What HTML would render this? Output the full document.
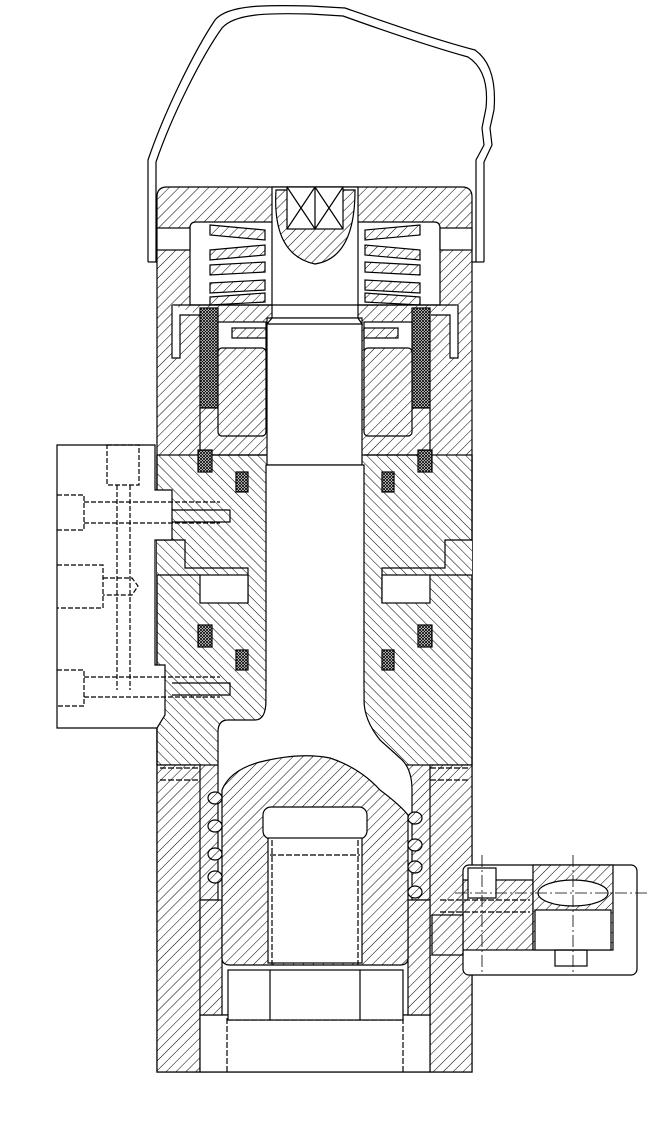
<!DOCTYPE html>
<html><head><meta charset="utf-8"><style>html,body{margin:0;padding:0;background:#fff}svg{display:block}</style></head>
<body>
<svg width="650" height="1135" viewBox="0 0 650 1135" xmlns="http://www.w3.org/2000/svg" fill="none" stroke="#000" stroke-width="1.2">
<defs>
<pattern id="h" width="7" height="7" patternUnits="userSpaceOnUse" patternTransform="rotate(45)"><rect width="7" height="7" fill="#fff" stroke="none"/><line x1="0" y1="0" x2="0" y2="7" stroke="#000" stroke-width="1"/></pattern>
<pattern id="g" width="7" height="7" patternUnits="userSpaceOnUse" patternTransform="rotate(-45)"><rect width="7" height="7" fill="#fff" stroke="none"/><line x1="0" y1="0" x2="0" y2="7" stroke="#000" stroke-width="1"/></pattern>
<pattern id="x" width="3" height="3" patternUnits="userSpaceOnUse"><rect width="3" height="3" fill="#fff" stroke="none"/><path d="M0,0L3,3M3,0L0,3" stroke="#000" stroke-width="0.8"/></pattern>
</defs>
<!-- handle -->
<path d="M148,262 L148,160 C165,110 195,50 215,20 C228,4 270,5 310,6 L345,8 C385,22 430,38 475,50 C492,62 496,85 494,110 L490,128 L492,145 L484,162 L484,262" />
<path d="M156,262 L156,162 C172,115 202,56 222,28 C235,13 270,13 310,14 L343,16 C382,30 425,45 468,57 C485,68 488,88 486,108 L482,128 L484,145 L476,160 L476,262" />
<line x1="148" y1="262" x2="157" y2="262"/><line x1="472" y1="262" x2="484" y2="262"/>
<!-- main body -->
<path d="M157,197 Q157,187 167,187 L462,187 Q472,187 472,197 L472,1072 L157,1072 Z" fill="url(#h)"/>
<rect x="157" y="455" width="315" height="310" fill="url(#g)"/>
<line x1="157" y1="455" x2="157" y2="765"/><line x1="472" y1="455" x2="472" y2="765"/>
<!-- top cavity -->
<path d="M190,228 Q190,222 196,222 L434,222 Q440,222 440,228 L440,305 L190,305 Z" fill="#fff"/>
<rect x="157" y="228" width="33" height="22" fill="#fff"/>
<rect x="440" y="228" width="32" height="22" fill="#fff"/>
<!-- disc springs -->
<g fill="url(#h)">
<path d="M210,225 L265,230 L265,240 L210,235Z"/><path d="M210,250 L265,245 L265,255 L210,260Z"/>
<path d="M210,265 L265,262 L265,272 L210,275Z"/><path d="M210,283 L265,280 L265,290 L210,293Z"/>
<path d="M210,297 L265,293 L265,302 L210,305Z"/>
<path d="M420,225 L365,230 L365,240 L420,235Z"/><path d="M420,250 L365,245 L365,255 L420,260Z"/>
<path d="M420,265 L365,262 L365,272 L420,275Z"/><path d="M420,283 L365,280 L365,290 L420,293Z"/>
<path d="M420,297 L365,293 L365,302 L420,305Z"/>
</g>
<!-- upper rod -->
<rect x="272" y="187" width="86" height="131" fill="#fff"/>
<path d="M276,190 Q272,255 315,264 Q355,258 355,190 Z" fill="url(#h)"/>
<rect x="287" y="187" width="56" height="42" fill="#fff"/>
<path d="M287,187 L315,229 M315,187 L287,229 M315,187 L343,229 M343,187 L315,229 M315,187 L315,229"/>
<rect x="267" y="318" width="95" height="147" fill="#fff"/>
<path d="M272,318 L267,324 L362,324 L358,318"/>
<line x1="172" y1="305" x2="458" y2="305"/>
<!-- side channels top -->
<path d="M172,305 L172,358 L180,358 L180,315 L200,315" fill="#fff"/>
<path d="M458,305 L458,358 L450,358 L450,315 L431,315" fill="#fff"/>
<!-- seal rings -->
<rect x="200" y="308" width="18" height="100" fill="url(#x)"/>
<rect x="412" y="308" width="18" height="100" fill="url(#x)"/>
<!-- nuts -->
<rect x="218" y="322" width="48" height="28" fill="#fff"/>
<rect x="364" y="322" width="48" height="28" fill="#fff"/>
<rect x="218" y="348" width="48" height="88" rx="4" fill="url(#h)"/>
<rect x="364" y="348" width="48" height="88" rx="4" fill="url(#h)"/>
<rect x="232" y="328" width="34" height="10" fill="url(#h)"/>
<rect x="364" y="328" width="34" height="10" fill="url(#h)"/>
<!-- lower rod -->
<rect x="266" y="465" width="98" height="255" fill="#fff"/>
<path d="M200,408 L200,455 L266,455" />
<path d="M430,408 L430,455 L364,455"/>
<rect x="198" y="450" width="14" height="22" fill="url(#x)"/>
<rect x="418" y="450" width="14" height="22" fill="url(#x)"/>
<rect x="236" y="472" width="12" height="20" fill="url(#x)"/>
<rect x="382" y="472" width="12" height="20" fill="url(#x)"/>
<!-- middle step -->
<path d="M157,540 L185,540 L185,568 L248,568 L248,602 L210,602 L200,575 L157,575" fill="url(#g)"/>
<path d="M472,540 L445,540 L445,568 L382,568 L382,602 L420,602 L430,575 L472,575" fill="url(#g)"/>
<rect x="200" y="575" width="48" height="28" fill="#fff"/><rect x="382" y="575" width="48" height="28" fill="#fff"/>
<rect x="198" y="625" width="14" height="22" fill="url(#x)"/><rect x="418" y="625" width="14" height="22" fill="url(#x)"/>
<rect x="236" y="650" width="12" height="20" fill="url(#x)"/><rect x="382" y="650" width="12" height="20" fill="url(#x)"/>
<!-- bottom cavity -->
<path d="M228,720 L255,720 Q266,720 266,700 L266,690 L364,690 L364,700 Q364,720 380,740 L400,758 Q412,768 412,790 L412,900 L437,900 L437,1015 L193,1015 L193,900 L218,900 L218,732 Q218,720 228,720Z" fill="#fff"/>
<rect x="266.6" y="686" width="96.8" height="40" fill="#fff" stroke="none"/>
<rect x="157" y="765" width="43" height="307" fill="url(#h)"/>
<rect x="430" y="765" width="42" height="307" fill="url(#h)"/>
<rect x="200" y="1015" width="230" height="57" fill="#fff"/>
<path d="M227,1018 L227,1072 M403,1018 L403,1072 M227,1020 L403,1020" stroke-dasharray="6,2"/>
<rect x="228" y="970" width="175" height="50" fill="#fff"/>
<line x1="270" y1="970" x2="270" y2="1020"/><line x1="360" y1="970" x2="360" y2="1020"/>
<rect x="200" y="900" width="22" height="115" fill="url(#h)"/>
<rect x="408" y="900" width="22" height="115" fill="url(#h)"/>
<!-- piston -->
<path d="M222,790 Q230,770 260,762 Q300,752 330,758 Q360,768 380,790 Q400,805 408,815 L408,958 Q408,965 400,965 L230,965 Q222,965 222,958 Z" fill="url(#h)"/>
<rect x="263" y="807" width="104" height="32" rx="8" fill="#fff"/>
<rect x="268" y="838" width="94" height="125" fill="#fff"/>
<path d="M270,855 L360,855" stroke-dasharray="6,2"/>
<path d="M272,840 L272,965 M358,840 L358,965" stroke-dasharray="6,2"/>
<!-- springs -->
<g fill="url(#h)">
<ellipse cx="215" cy="798" rx="7" ry="6"/><ellipse cx="215" cy="826" rx="7" ry="6"/><ellipse cx="215" cy="854" rx="7" ry="6"/><ellipse cx="215" cy="877" rx="7" ry="6"/>
<ellipse cx="415" cy="818" rx="7" ry="6"/><ellipse cx="415" cy="845" rx="7" ry="6"/><ellipse cx="415" cy="867" rx="7" ry="6"/><ellipse cx="415" cy="892" rx="7" ry="6"/>
</g>
<path d="M160,768 L200,768 M160,780 L200,780 M430,768 L470,768 M430,780 L470,780" stroke-dasharray="6,2"/>
<!-- left block -->
<path d="M57,445 L155,445 L155,490 L172,490 L172,540 L155,540 L155,665 L165,665 L165,715 L157,728 L57,728 Z" fill="#fff"/>
<g stroke-dasharray="5,2">
<rect x="107" y="445" width="32" height="40"/>
<path d="M57,495 L84,495 L84,530 L57,530 M84,502 L220,502 M84,523 L220,523"/>
<path d="M57,565 L103,565 L103,608 L57,608 M103,578 L132,578 L138,586 L132,595 L103,595"/>
<path d="M57,670 L84,670 L84,706 L57,706 M84,677 L220,677 M84,697 L220,697"/>
<path d="M117,485 L117,690 M130,485 L130,690"/>
</g>
<path d="M172,510 L230,510 L230,522 L172,522 M172,683 L230,683 L230,695 L172,695"/>
<!-- right block -->
<rect x="463" y="865" width="174" height="110" rx="6" fill="#fff"/>
<rect x="463" y="880" width="70" height="70" fill="url(#h)"/>
<rect x="533" y="865" width="80" height="85" fill="url(#h)"/>
<ellipse cx="573" cy="893" rx="35" ry="13" fill="#fff"/>
<rect x="535" y="910" width="76" height="40" fill="#fff"/>
<rect x="468" y="868" width="28" height="30" fill="#fff"/>
<rect x="555" y="950" width="32" height="16"/>
<rect x="432" y="915" width="31" height="40" fill="url(#h)"/>
<path d="M440,900 L530,900 M440,912 L530,912" stroke-dasharray="6,2"/>
<path d="M573,855 L573,975 M482,855 L482,975 M455,893 L648,893" stroke-width="0.8" stroke-dasharray="12,3,2,3"/>
</svg>
</body></html>
